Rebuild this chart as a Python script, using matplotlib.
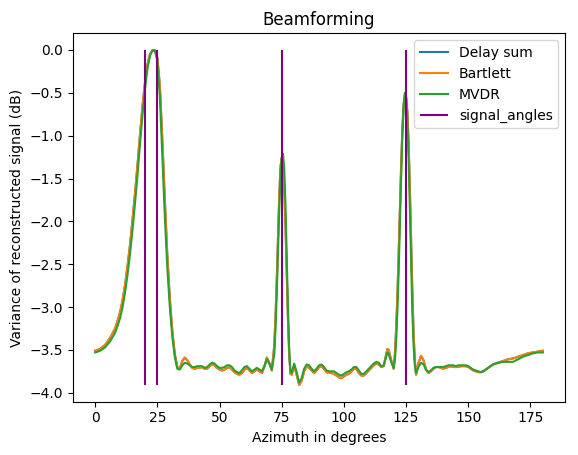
import numpy as np
import matplotlib
matplotlib.use("Agg")
import matplotlib.pyplot as plt

# azimuth sample points (denser around the beams)
angles = [0, 2, 4, 6, 8, 9, 10, 11, 12, 13, 14, 15, 16, 17, 18, 19, 20, 21, 22, 23, 24, 25,
          26, 27, 28, 29, 30, 31, 32, 33, 34, 35, 36, 37, 38, 39, 40, 41, 42, 43, 44, 45,
          46, 47, 48, 49, 50, 51, 52, 53, 54, 55, 56, 57, 58, 59, 60, 61, 62, 63, 64, 65,
          66, 67, 68, 69, 70, 71, 72, 72.5, 73, 73.5, 74, 74.5, 75, 75.5, 76, 76.5, 77,
          77.5, 78, 78.5, 79, 80, 81, 82, 83, 84, 85, 86, 87, 88, 89, 90, 91, 92, 93, 94,
          95, 96, 97, 98, 99, 100, 101, 102, 103, 104, 105, 106, 107, 108, 109, 110, 111,
          112, 113, 114, 115, 116, 117, 117.5, 118, 119, 120, 120.5, 121, 121.5, 122,
          122.5, 123, 123.5, 124, 124.5, 125, 125.5, 126, 126.5, 127, 127.5, 128, 128.5,
          129, 130, 131, 132, 133, 134, 135, 136, 137, 138, 139, 140, 141, 142, 143, 144,
          145, 146, 147, 148, 149, 150, 152, 154, 155, 156, 158, 160, 162, 164, 166, 168,
          170, 172, 174, 176, 178, 180]

bartlett = [-3.51, -3.49, -3.44, -3.36, -3.25, -3.16, -3.06, -2.92, -2.74, -2.52, -2.27,
            -1.98, -1.67, -1.34, -0.99, -0.66, -0.38, -0.17, -0.05, -0.005, -0.005, -0.09,
            -0.42, -1.05, -1.75, -2.40, -2.90, -3.28, -3.55, -3.70, -3.72, -3.63, -3.59,
            -3.62, -3.67, -3.71, -3.72, -3.71, -3.71, -3.70, -3.72, -3.72, -3.69, -3.67,
            -3.68, -3.71, -3.73, -3.74, -3.73, -3.71, -3.70, -3.73, -3.76, -3.78, -3.79,
            -3.77, -3.73, -3.71, -3.74, -3.77, -3.75, -3.73, -3.75, -3.77, -3.70, -3.59,
            -3.65, -3.74, -3.45, -3.10, -2.68, -2.18, -1.70, -1.36, -1.26, -1.33, -1.60,
            -2.05, -2.62, -3.15, -3.55, -3.78, -3.79, -3.68, -3.79, -3.91, -3.86, -3.75,
            -3.69, -3.71, -3.74, -3.77, -3.74, -3.70, -3.69, -3.72, -3.76, -3.77, -3.77,
            -3.78, -3.80, -3.82, -3.83, -3.81, -3.79, -3.78, -3.75, -3.72, -3.72, -3.77,
            -3.80, -3.80, -3.77, -3.74, -3.71, -3.68, -3.66, -3.67, -3.70, -3.69, -3.55,
            -3.49, -3.50, -3.62, -3.72, -3.55, -3.25, -2.85, -2.38, -1.85, -1.35, -0.92,
            -0.64, -0.53, -0.55, -0.72, -1.08, -1.60, -2.20, -2.80, -3.30, -3.62, -3.79,
            -3.65, -3.57, -3.62, -3.73, -3.77, -3.75, -3.72, -3.70, -3.70, -3.71, -3.72,
            -3.71, -3.70, -3.69, -3.70, -3.70, -3.70, -3.69, -3.69, -3.69, -3.70, -3.74,
            -3.76, -3.76, -3.75, -3.71, -3.67, -3.65, -3.63, -3.61, -3.60, -3.58, -3.56,
            -3.54, -3.53, -3.52, -3.51]

# delay-and-sum gives the same spectrum as Bartlett here
delay_sum = list(bartlett)

mvdr = [-3.53, -3.51, -3.47, -3.40, -3.30, -3.22, -3.13, -3.00, -2.83, -2.62, -2.38, -2.10,
        -1.79, -1.46, -1.10, -0.76, -0.46, -0.22, -0.07, -0.005, -0.005, -0.13, -0.55, -1.25,
        -1.95, -2.55, -3.00, -3.35, -3.58, -3.72, -3.73, -3.68, -3.65, -3.66, -3.68, -3.70,
        -3.70, -3.69, -3.69, -3.69, -3.71, -3.70, -3.67, -3.65, -3.66, -3.69, -3.71, -3.71,
        -3.70, -3.68, -3.68, -3.70, -3.74, -3.76, -3.77, -3.74, -3.70, -3.69, -3.72, -3.75,
        -3.73, -3.71, -3.73, -3.75, -3.69, -3.61, -3.66, -3.73, -3.55, -3.25, -2.85, -2.35,
        -1.85, -1.45, -1.25, -1.21, -1.38, -1.80, -2.40, -3.00, -3.50, -3.75, -3.77, -3.66,
        -3.76, -3.88, -3.83, -3.72, -3.67, -3.68, -3.72, -3.75, -3.72, -3.68, -3.67, -3.70,
        -3.74, -3.75, -3.75, -3.75, -3.77, -3.79, -3.80, -3.78, -3.76, -3.75, -3.73, -3.70,
        -3.70, -3.74, -3.78, -3.78, -3.75, -3.72, -3.69, -3.66, -3.64, -3.65, -3.69, -3.68,
        -3.58, -3.53, -3.55, -3.64, -3.71, -3.62, -3.40, -3.05, -2.60, -2.05, -1.50, -1.00,
        -0.65, -0.50, -0.55, -0.80, -1.25, -1.85, -2.50, -3.05, -3.45, -3.68, -3.77, -3.70,
        -3.65, -3.67, -3.73, -3.76, -3.74, -3.71, -3.70, -3.70, -3.70, -3.70, -3.69, -3.68,
        -3.68, -3.68, -3.69, -3.68, -3.68, -3.68, -3.68, -3.69, -3.73, -3.75, -3.76, -3.75,
        -3.71, -3.67, -3.65, -3.64, -3.64, -3.64, -3.61, -3.58, -3.56, -3.54, -3.53, -3.53]

signal_angles = [20, 25, 75, 125]

fig = plt.figure(figsize=(5.78, 4.55), dpi=100)
plt.subplots_adjust(left=0.126, right=0.978, top=0.927, bottom=0.117)

plt.plot(angles, delay_sum, label="Delay sum")
plt.plot(angles, bartlett, label="Bartlett")
plt.plot(angles, mvdr, label="MVDR")
low = min(min(delay_sum), min(bartlett), min(mvdr))
plt.vlines(signal_angles, low, 0, color="purple", label="signal_angles")

plt.title("Beamforming")
plt.xlabel("Azimuth in degrees")
plt.ylabel("Variance of reconstructed signal (dB)")
plt.legend(loc="upper right")
plt.savefig("out.png")
